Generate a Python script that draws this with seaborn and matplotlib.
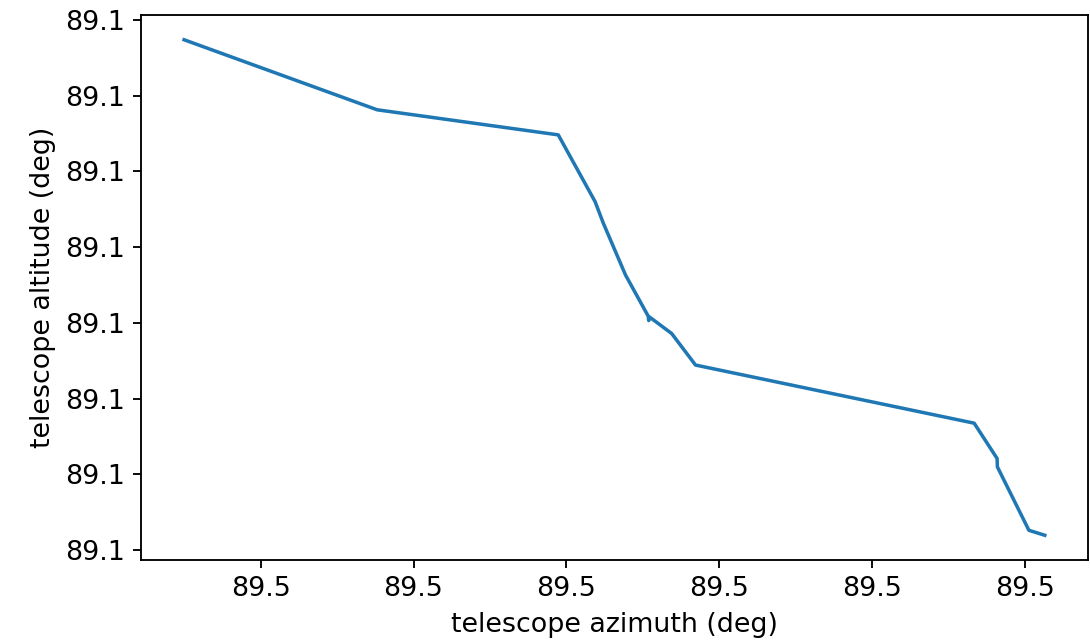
import pandas as pd
import matplotlib
matplotlib.use('Agg')
import matplotlib.pyplot as plt
import matplotlib.ticker as mticker
import seaborn as sns

# Telescope pointing track (deg)
azimuth = [89.4999499, 89.5000762, 89.5001947, 89.5002188, 89.5002242,
           89.5002387, 89.5002535, 89.5002539, 89.5002544, 89.5002689,
           89.5002845, 89.5004668, 89.5004818, 89.5004820, 89.5005026,
           89.5005130]
altitude = [89.10006736, 89.10005812, 89.10005481, 89.10004600, 89.10004315,
            89.10003632, 89.10003091, 89.10003031, 89.10003078, 89.10002860,
            89.10002444, 89.10001677, 89.10001211, 89.10001100, 89.10000264,
            89.10000198]

df = pd.DataFrame({'az': azimuth, 'alt': altitude})

plt.rcParams['font.size'] = 11.5

fig = plt.figure(figsize=(1090 / 168, 643 / 168), dpi=168)
ax = fig.add_axes([0.1294, 0.129, 0.8686, 0.8477])
sns.lineplot(data=df, x='az', y='alt', sort=False, estimator=None,
             color='#1f77b4', linewidth=1.5, ax=ax)

ax.xaxis.set_major_locator(mticker.MultipleLocator(1e-4))
ax.yaxis.set_major_locator(mticker.MultipleLocator(1e-5))
ax.xaxis.set_major_formatter(mticker.FormatStrFormatter('%.1f'))
ax.yaxis.set_major_formatter(mticker.FormatStrFormatter('%.1f'))
ax.set_xlabel('telescope azimuth (deg)')
ax.set_ylabel('telescope altitude (deg)')

fig.savefig('out.png', dpi=168)
